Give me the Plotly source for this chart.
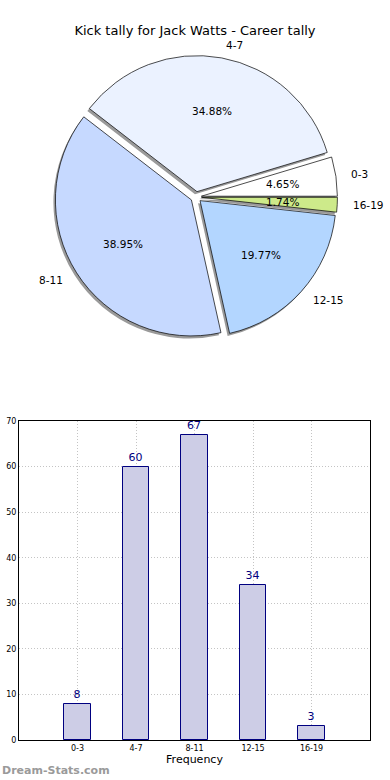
import math
import plotly.graph_objects as go

# ---- data ----
categories = ["0-3", "4-7", "8-11", "12-15", "16-19"]
kicks = [8, 60, 67, 34, 3]
pie_colors = ["#ffffff", "#ebf2ff", "#c6d9ff", "#b3d6ff", "#cdea8a"]
y_ticks = [0, 10, 20, 30, 40, 50, 60, 70]
title_text = "Kick tally for Jack Watts - Career tally"

# ---- layout constants (pixels) ----
W, H = 390, 780
cx, cy, r = 196, 197, 136
pull = 0.04
R = r * (1 + pull)
FONT = "DejaVu Sans"

total = sum(kicks)
# first slice starts at 3 o'clock and slices run counterclockwise
rotation = 90 - 360 * kicks[0] / total


def dom(dx=0.0, dy=0.0):
    return dict(x=[(cx + dx - R) / W, (cx + dx + R) / W],
                y=[1 - (cy + dy + R) / H, 1 - (cy + dy - R) / H])


fig = go.Figure()

# shadow
fig.add_trace(go.Pie(
    labels=categories, values=kicks, sort=False, direction="counterclockwise",
    rotation=rotation, pull=pull, textinfo="none", hoverinfo="skip",
    marker=dict(colors=["#9a9a9a"] * len(kicks), line=dict(width=0)),
    domain=dom(-2, 2.5), showlegend=False))

# main pie
fig.add_trace(go.Pie(
    labels=categories, values=kicks, sort=False, direction="counterclockwise",
    rotation=rotation, pull=pull, textinfo="none",
    marker=dict(colors=pie_colors, line=dict(color="#000000", width=0.7)),
    domain=dom(), showlegend=False))

# labels and percentages, placed like matplotlib (label 1.1r, pct 0.6r)
start = 0.0
annotations = []
for cat, v in zip(categories, kicks):
    frac = v / total
    mid = math.radians((start + frac / 2) * 360)
    start += frac
    c, s = math.cos(mid), math.sin(mid)
    ox, oy = cx + pull * r * c, cy - pull * r * s
    lx, ly = ox + 1.1 * r * c, oy - 1.1 * r * s
    px, py = ox + 0.6 * r * c, oy - 0.6 * r * s
    annotations.append(dict(
        x=lx / W, y=1 - ly / H, xref="paper", yref="paper", text=cat,
        showarrow=False, xanchor="left" if c > 0 else "right", yanchor="middle",
        font=dict(family=FONT, size=10.5, color="#000000")))
    annotations.append(dict(
        x=px / W, y=1 - py / H, xref="paper", yref="paper",
        text=f"{frac * 100:.2f}%", showarrow=False, xanchor="center",
        yanchor="middle", font=dict(family=FONT, size=10.5, color="#000000")))

annotations.append(dict(
    x=0, y=1 - 770 / H, xref="paper", yref="paper", text="<b>Dream-Stats.com</b>",
    showarrow=False, xanchor="left", yanchor="middle",
    font=dict(family=FONT, size=11, color="#9a9a9a")))

# bar chart
fig.add_trace(go.Bar(
    x=categories, y=kicks, width=0.45, xaxis="x", yaxis="y",
    marker=dict(color="#cdcde6", line=dict(color="#000080", width=1)),
    text=kicks, textposition="outside", cliponaxis=False,
    textfont=dict(family=FONT, size=11, color="#000080"), showlegend=False))

axis_common = dict(showgrid=True, griddash="1px,2px", gridcolor="#c4c4c4", gridwidth=1,
                   showline=True, mirror=True, linecolor="#000000", linewidth=1,
                   zeroline=False, ticks="", automargin=False,
                   tickfont=dict(family=FONT, size=8, color="#000000"))

fig.update_layout(
    width=W, height=H, margin=dict(l=0, r=0, t=0, b=0),
    paper_bgcolor="#ffffff", plot_bgcolor="#ffffff",
    title=dict(text=title_text, x=0.5, xanchor="center", y=1 - 30 / H, yanchor="middle",
               font=dict(family=FONT, size=13, color="#000000")),
    xaxis=dict(domain=[19 / W, 370 / W], anchor="y", type="category",
               range=[-1, 5], title=dict(text="Frequency", standoff=3,
                                         font=dict(family=FONT, size=11, color="#000000")),
               **axis_common),
    yaxis=dict(domain=[1 - 740 / H, 1 - 421 / H], anchor="x", range=[0, 70],
               tickvals=y_ticks, **axis_common),
    annotations=annotations,
    bargap=0,
)

fig.write_html("out.html", config={"displayModeBar": False},
               post_script="document.body.style.margin='0';")
